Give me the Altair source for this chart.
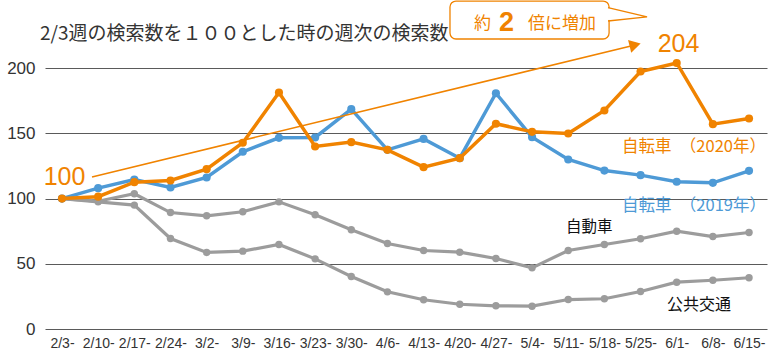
import json
import altair as alt
import pandas as pd

weeks = ["2/3-", "2/10-", "2/17-", "2/24-", "3/2-", "3/9-", "3/16-", "3/23-", "3/30-", "4/6-",
         "4/13-", "4/20-", "4/27-", "5/4-", "5/11-", "5/18-", "5/25-", "6/1-", "6/8-", "6/15-"]
bike2020 = [100, 101.5, 112.6, 113.9, 122.6, 142.8, 181.4, 140.0, 143.3, 137.4,
            124.1, 131.0, 157.4, 151.2, 149.9, 167.6, 197.5, 204.0, 157.1, 161.4]
bike2019 = [100, 108.0, 114.6, 108.5, 116.2, 135.9, 146.6, 146.9, 168.6, 137.4,
            145.8, 131.0, 180.8, 147.1, 130.0, 121.5, 118.0, 112.9, 112.1, 121.3]
car = [100, 98.0, 103.7, 89.3, 86.8, 89.9, 97.5, 87.6, 76.1, 65.6,
       60.2, 58.9, 54.1, 46.9, 60.2, 64.8, 69.2, 75.0, 70.9, 74.0]
transit = [100, 97.5, 95.0, 69.4, 58.7, 59.7, 64.8, 53.8, 40.3, 28.5,
           22.4, 19.0, 17.8, 17.5, 22.6, 23.2, 28.8, 35.9, 37.4, 39.3]
y_ticks = [0, 50, 100, 150, 200]

ORANGE = "#F08300"
BLUE = "#4E9AD6"
GRAY = "#9C9C9C"
TEXT = "#333333"
JP = "Noto Sans CJK JP"
NUM = "Liberation Sans"

xscale = alt.Scale(domain=[-0.47, 19.497], nice=False, zero=False)
yscale = alt.Scale(domain=[0, 250], nice=False, zero=False)
label_expr = json.dumps(weeks) + "[datum.value]"
xaxis = alt.Axis(values=list(range(len(weeks))), labelExpr=label_expr, grid=False, domain=False,
                 ticks=False, labelAngle=0, labelFontSize=14, labelFont=NUM, labelColor=TEXT,
                 labelPadding=7, labelOverlap=False, labelFlush=False, title=None)
yaxis = alt.Axis(values=y_ticks, grid=True, gridColor="#5a5a5a", gridWidth=1, domain=False,
                 ticks=False, labelFontSize=17, labelFont=NUM, labelColor=TEXT, labelPadding=10,
                 title=None)


def X(field):
    return alt.X(field, type="quantitative", scale=xscale, axis=xaxis)


def Y(field):
    return alt.Y(field, type="quantitative", scale=yscale, axis=yaxis)


def series_df(vals, name):
    return pd.DataFrame({"i": list(range(len(vals))), "v": vals, "s": name})


def series_layer(vals, name, color, sw, size):
    d = series_df(vals, name)
    base = alt.Chart(d)
    line = base.mark_line(color=color, strokeWidth=sw).encode(x=X("i"), y=Y("v"))
    pts = base.mark_point(color=color, filled=True, size=size, opacity=1).encode(x=X("i"), y=Y("v"))
    return line + pts


layers = []
layers.append(series_layer(transit, "公共交通", GRAY, 3.2, 55))
layers.append(series_layer(car, "自動車", GRAY, 3.2, 55))
layers.append(series_layer(bike2019, "自転車（2019年）", BLUE, 3.5, 66))
layers.append(series_layer(bike2020, "自転車（2020年）", ORANGE, 3.5, 66))

# arrow annotation (data space)
arrow = pd.DataFrame({"i": [0.83, 15.85], "v": [116.6, 217.8]})
layers.append(alt.Chart(arrow).mark_line(color=ORANGE, strokeWidth=1.5).encode(x=X("i"), y=Y("v")))
head = pd.DataFrame({"i": [15.85], "v": [217.8]})
layers.append(alt.Chart(head).mark_point(shape="triangle-right", filled=True, color=ORANGE,
                                         size=170, angle=346, opacity=1).encode(x=X("i"), y=Y("v")))

# callout box
box = pd.DataFrame({"i": [10.73], "i2": [15.13], "v": [251.5], "v2": [222.4]})
layers.append(alt.Chart(box).mark_rect(fill="white", stroke=ORANGE, strokeWidth=1.3,
                                       cornerRadius=6).encode(
    x=X("i"), x2="i2", y=Y("v"), y2="v2"))
gap = pd.DataFrame({"i": [15.13], "v": [246.0], "v2": [237.0]})
layers.append(alt.Chart(gap).mark_rule(color="white", strokeWidth=3).encode(
    x=X("i"), y=Y("v"), y2="v2"))
tail = pd.DataFrame({"i": [15.10, 16.18, 15.10], "v": [246.5, 239.3, 236.2], "o": [0, 1, 2]})
layers.append(alt.Chart(tail).mark_line(color=ORANGE, strokeWidth=1.3).encode(
    x=X("i"), y=Y("v"), order="o:Q"))

texts = pd.DataFrame([
    {"i": 11.63, "v": 233.9, "t": "約", "c": ORANGE, "f": JP, "s": 17, "w": "normal", "a": "center"},
    {"i": 12.29, "v": 234.5, "t": "2", "c": ORANGE, "f": NUM, "s": 27, "w": "bold", "a": "center"},
    {"i": 12.89, "v": 233.9, "t": "倍に増加", "c": ORANGE, "f": JP, "s": 17, "w": "normal", "a": "left"},
    {"i": 0.07, "v": 116.6, "t": "100", "c": ORANGE, "f": NUM, "s": 25, "w": "normal", "a": "center"},
    {"i": 17.05, "v": 218.6, "t": "204", "c": ORANGE, "f": NUM, "s": 25, "w": "normal", "a": "center"},
    {"i": 15.49, "v": 139.6, "t": "自転車　（2020年）", "c": ORANGE, "f": JP, "s": 16.5, "w": "normal", "a": "left"},
    {"i": 15.49, "v": 94.3, "t": "自転車　（2019年）", "c": BLUE, "f": JP, "s": 16.5, "w": "normal", "a": "left"},
    {"i": 13.94, "v": 78.2, "t": "自動車", "c": "#111111", "f": JP, "s": 15.5, "w": "normal", "a": "left"},
    {"i": 16.73, "v": 18.4, "t": "公共交通", "c": "#111111", "f": JP, "s": 16, "w": "normal", "a": "left"},
    {"i": -0.61, "v": 226.2, "t": "2/3週の検索数を１００とした時の週次の検索数", "c": TEXT, "f": JP, "s": 19, "w": "normal", "a": "left"},
])
for _, r in texts.iterrows():
    d = pd.DataFrame([{"i": r["i"], "v": r["v"], "t": r["t"]}])
    layers.append(alt.Chart(d).mark_text(color=r["c"], font=r["f"], fontSize=float(r["s"]),
                                         fontWeight=r["w"], align=r["a"], baseline="middle").encode(
        x=X("i"), y=Y("v"), text="t:N"))

chart = alt.layer(*layers).properties(
    width=722, height=326,
    padding={"left": 45, "top": 3, "right": 3, "bottom": 24},
    autosize=alt.AutoSizeParams(type="none"),
    background="white",
).configure_view(stroke=None)

chart.save("out.html", embed_options={"renderer": "svg", "actions": False})
